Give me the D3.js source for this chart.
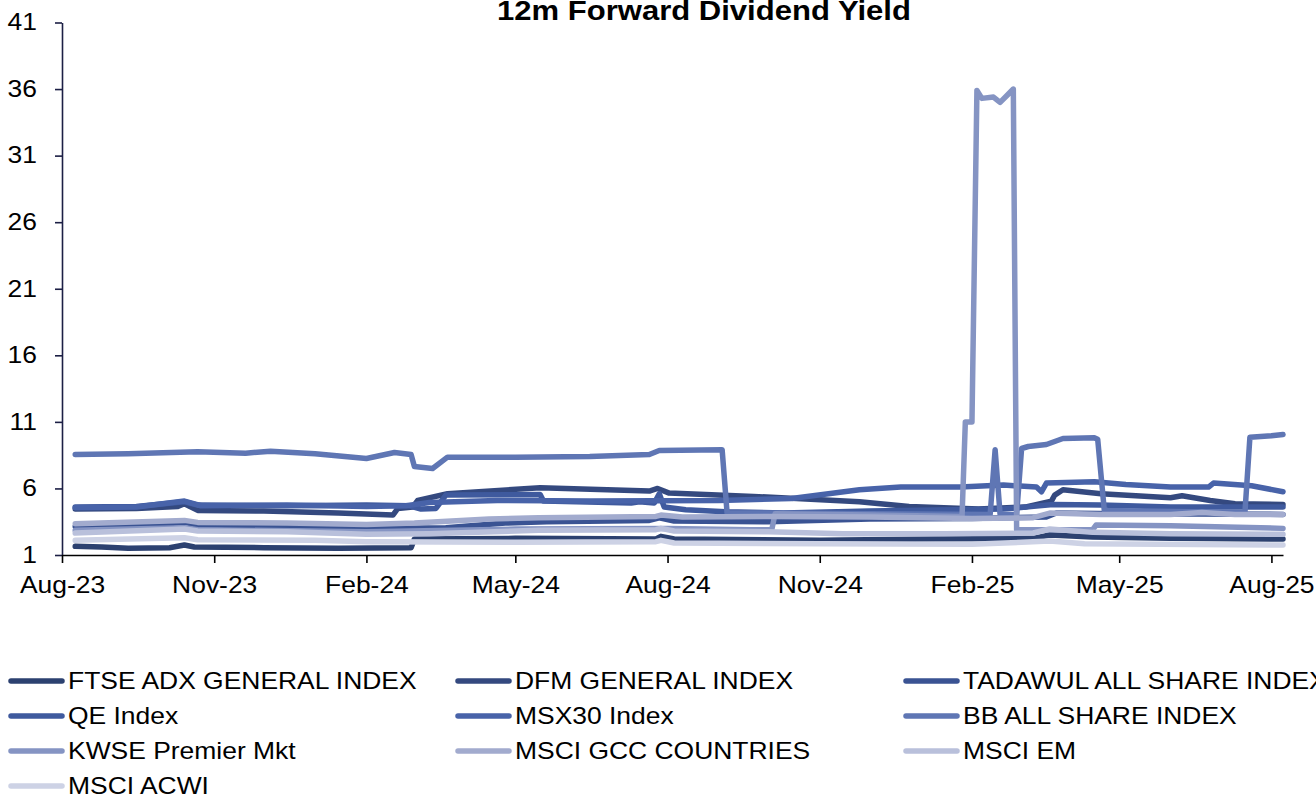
<!DOCTYPE html>
<html>
<head>
<meta charset="utf-8">
<script src="https://cdn.jsdelivr.net/npm/d3@7"></script>
<style>
body { margin: 0; background: #fff; }
text { font-family: Arial, "Liberation Sans", sans-serif; fill: #000; }
</style>
</head>
<body>
<div id="chart"></div>
<script>

var chartTitle = '12m Forward Dividend Yield';

var seriesNames = ['FTSE ADX GENERAL INDEX', 'DFM GENERAL INDEX', 'TADAWUL ALL SHARE INDEX',
                   'QE Index', 'MSX30 Index', 'BB ALL SHARE INDEX',
                   'KWSE Premier Mkt', 'MSCI GCC COUNTRIES', 'MSCI EM',
                   'MSCI ACWI'];
var seriesColors = ['#2c4170', '#34497f', '#3a5393', '#3f5a9e', '#4863a9',
                    '#5f76b4', '#8594c3', '#a2abce', '#b9c0db', '#cdd2e5'];

var yTicks = [1, 6, 11, 16, 21, 26, 31, 36, 41];
var xTicks = ['2023-08-01', '2023-11-01', '2024-02-01', '2024-05-01', '2024-08-01',
              '2024-11-01', '2025-02-01', '2025-05-01', '2025-08-01'];
var xStart = '2023-08-01', xEnd = '2025-08-08';

// values (date, yield %)
var ftseAdx = [['2023-08-09',1.65],['2023-08-25',1.6],['2023-09-10',1.5],['2023-10-05',1.55],['2023-10-14',1.75],
  ['2023-10-20',1.6],['2023-12-01',1.55],['2024-01-15',1.5],['2024-02-28',1.55],['2024-03-01',2.2],['2024-05-01',2.25],
  ['2024-07-25',2.2],['2024-07-28',2.4],['2024-08-05',2.2],['2024-11-01',2.1],['2025-01-10',2.2],['2025-03-10',2.25],
  ['2025-03-20',2.5],['2025-04-15',2.35],['2025-06-01',2.25],['2025-08-08',2.2]];
var dfm = [['2023-08-09',4.45],['2023-09-15',4.5],['2023-10-10',4.65],['2023-10-14',4.85],['2023-10-22',4.35],
  ['2023-12-01',4.3],['2024-01-15',4.15],['2024-02-17',4.0],['2024-02-20',4.5],['2024-02-29',4.6],['2024-03-03',5.1],
  ['2024-03-21',5.6],['2024-05-16',6.05],['2024-07-21',5.8],['2024-07-26',6.0],['2024-08-02',5.65],['2024-09-22',5.4],
  ['2024-11-25',5.0],['2024-12-25',4.65],['2025-02-05',4.45],['2025-03-05',4.6],['2025-03-21',5.05],['2025-03-23',5.5],
  ['2025-03-28',5.9],['2025-04-20',5.6],['2025-06-01',5.3],['2025-06-08',5.45],['2025-06-25',5.1],['2025-07-10',4.85],
  ['2025-08-08',4.8]];
var tadawul = [['2023-08-09',3.15],['2023-09-20',3.2],['2023-10-14',3.45],['2023-10-22',3.25],['2023-12-15',3.2],
  ['2024-02-10',3.0],['2024-03-20',3.05],['2024-04-25',3.4],['2024-05-20',3.5],['2024-07-21',3.6],['2024-07-27',3.8],
  ['2024-08-05',3.55],['2024-10-01',3.5],['2024-12-01',3.7],['2025-02-01',3.75],['2025-03-18',3.85],['2025-03-24',4.15],
  ['2025-05-01',4.1],['2025-08-08',4.05]];
var qe = [['2023-08-09',4.6],['2023-09-15',4.65],['2023-10-14',5.0],['2023-10-22',4.75],['2023-12-15',4.7],
  ['2024-02-01',4.75],['2024-02-27',4.7],['2024-03-05',4.45],['2024-03-14',4.5],['2024-03-20',5.5],['2024-05-16',5.55],
  ['2024-05-18',5.05],['2024-07-10',4.9],['2024-07-15',5.0],['2024-07-24',4.9],['2024-07-27',5.6],['2024-07-30',4.6],
  ['2024-08-12',4.4],['2024-09-05',4.25],['2024-10-10',4.15],['2024-12-01',4.3],['2025-01-20',4.4],['2025-02-20',4.45],
  ['2025-03-22',4.8],['2025-04-20',4.75],['2025-06-01',4.6],['2025-08-08',4.6]];
var msx30 = [['2023-08-09',4.55],['2023-09-15',4.6],['2023-10-14',5.05],['2023-10-24',4.7],['2023-12-15',4.75],
  ['2024-02-01',4.65],['2024-02-25',4.7],['2024-03-10',4.95],['2024-04-20',5.1],['2024-06-15',5.05],['2024-09-01',5.1],
  ['2024-10-15',5.25],['2024-11-25',5.9],['2024-12-20',6.1],['2025-01-25',6.1],['2025-02-20',6.25],['2025-03-12',6.1],
  ['2025-03-15',5.75],['2025-03-18',6.4],['2025-04-16',6.5],['2025-05-05',6.3],['2025-06-01',6.1],['2025-06-24',6.1],
  ['2025-06-27',6.4],['2025-07-20',6.2],['2025-08-08',5.75]];
var bbAllShare = [['2023-08-09',8.55],['2023-09-10',8.6],['2023-10-22',8.75],['2023-11-20',8.65],['2023-12-05',8.8],
  ['2024-01-01',8.6],['2024-02-01',8.25],['2024-02-18',8.7],['2024-02-28',8.55],['2024-03-01',7.65],['2024-03-12',7.5],
  ['2024-03-21',8.35],['2024-05-01',8.35],['2024-06-15',8.4],['2024-07-21',8.55],['2024-07-27',8.85],['2024-09-03',8.9],
  ['2024-09-06',4.15],['2024-10-04',4.15],['2024-12-01',4.1],['2025-02-12',4.05],['2025-02-15',8.9],['2025-02-18',4.05],
  ['2025-02-28',4.05],['2025-03-03',9.0],['2025-03-07',9.15],['2025-03-18',9.3],['2025-03-28',9.75],['2025-04-16',9.8],
  ['2025-04-18',9.7],['2025-04-22',4.35],['2025-07-16',4.2],['2025-07-19',9.85],['2025-08-01',9.95],['2025-08-08',10.05]];
var kwsePremier = [['2023-08-09',2.85],['2023-10-14',3.05],['2023-10-22',2.9],['2024-02-01',2.75],['2024-05-01',2.95],
  ['2024-08-01',3.0],['2024-09-20',2.9],['2024-10-03',2.9],['2024-10-05',4.1],['2024-12-01',4.0],['2025-01-26',3.9],
  ['2025-01-28',11.0],['2025-02-01',11.0],['2025-02-04',35.9],['2025-02-07',35.3],['2025-02-14',35.4],['2025-02-18',35.0],
  ['2025-02-22',35.5],['2025-02-26',36.0],['2025-02-28',2.9],['2025-04-15',2.9],['2025-04-17',3.25],['2025-06-01',3.2],
  ['2025-08-08',3.0]];
var msciGcc = [['2023-08-09',3.35],['2023-10-14',3.6],['2023-10-22',3.45],['2023-12-15',3.4],['2024-02-01',3.3],
  ['2024-03-01',3.4],['2024-04-15',3.7],['2024-05-15',3.8],['2024-07-25',3.9],['2024-07-28',4.0],['2024-08-10',3.85],
  ['2024-10-01',3.9],['2024-12-01',3.85],['2025-02-01',3.75],['2025-03-10',3.8],['2025-03-20',4.15],['2025-04-20',4.05],
  ['2025-06-01',4.05],['2025-06-20',4.2],['2025-07-10',4.05],['2025-08-08',4.05]];
var msciEm = [['2023-08-09',2.65],['2023-10-14',2.95],['2023-10-22',2.8],['2023-12-15',2.75],['2024-02-01',2.55],
  ['2024-03-10',2.6],['2024-05-15',2.85],['2024-07-25',2.9],['2024-07-28',3.0],['2024-08-05',2.8],['2024-10-01',2.75],
  ['2024-11-15',2.6],['2025-01-15',2.6],['2025-03-10',2.65],['2025-03-20',2.95],['2025-04-15',2.7],['2025-06-01',2.6],
  ['2025-08-08',2.55]];
var msciAcwi = [['2023-08-09',2.1],['2023-10-14',2.3],['2023-10-22',2.15],['2024-01-01',2.1],['2024-02-01',2.0],
  ['2024-05-01',1.95],['2024-07-25',2.0],['2024-07-28',2.1],['2024-08-05',1.9],['2024-11-01',1.85],['2025-02-01',1.8],
  ['2025-03-20',2.05],['2025-04-10',1.85],['2025-08-08',1.75]];

var seriesData = [ftseAdx, dfm, tadawul, qe, msx30, bbAllShare, kwsePremier, msciGcc, msciEm, msciAcwi];

var parseDate = d3.timeParse('%Y-%m-%d');
var stretchX = 1.15; // picture text is a little wide

function stretch(sel) {
  sel.each(function() {
    var ax = +(this.getAttribute('x') || 0);
    d3.select(this).attr('transform', 'translate(' + ax + ',0) scale(' + stretchX + ',1) translate(' + (-ax) + ',0)');
  });
}

var width = 1316, height = 796;

var svg = d3.select('#chart').append('svg')
    .attr('width', width)
    .attr('height', height);

var x = d3.scaleTime()
    .domain([parseDate(xStart), parseDate(xEnd)])
    .range([62, 1283]);

var y = d3.scaleLinear()
    .domain([1, 41])
    .range([555, 22.5]);

var yAxis = d3.axisLeft(y)
    .tickValues(yTicks)
    .tickSize(7)
    .tickSizeOuter(0)
    .tickPadding(18)
    .tickFormat(d3.format('d'));

var xAxis = d3.axisBottom(x)
    .tickValues(xTicks.map(parseDate))
    .tickSize(8)
    .tickSizeOuter(0)
    .tickPadding(14)
    .tickFormat(d3.timeFormat('%b-%y'));

var gy = svg.append('g')
    .attr('transform', 'translate(62,0)')
    .call(yAxis);
gy.select('.domain').attr('stroke', '#1c1f45').attr('stroke-width', 1.6);
gy.selectAll('.tick line').attr('stroke', '#1c1f45').attr('stroke-width', 1.6);
gy.selectAll('.tick text').style('font-size', '23px').style('font-family', 'Arial, "Liberation Sans", sans-serif').attr('fill', '#000');
stretch(gy.selectAll('.tick text'));

var gx = svg.append('g')
    .attr('transform', 'translate(0,555)')
    .call(xAxis);
gx.select('.domain').attr('stroke', '#000').attr('stroke-width', 1.6);
gx.selectAll('.tick line').attr('stroke', '#000').attr('stroke-width', 1.6);
gx.selectAll('.tick text').style('font-size', '23px').style('font-family', 'Arial, "Liberation Sans", sans-serif').attr('fill', '#000');
stretch(gx.selectAll('.tick text'));

var line = d3.line()
    .x(function(d) { return x(parseDate(d[0])); })
    .y(function(d) { return y(d[1]); });

svg.selectAll('.series')
    .data(seriesData)
  .enter().append('path')
    .attr('class', 'series')
    .attr('d', line)
    .attr('fill', 'none')
    .attr('stroke', function(d, i) { return seriesColors[i]; })
    .attr('stroke-width', 5.5)
    .attr('stroke-linejoin', 'round')
    .attr('stroke-linecap', 'round');

// title, a little cut at the top like the source
var title = svg.append('text')
    .attr('x', 704)
    .attr('y', 20)
    .attr('text-anchor', 'middle')
    .style('font-size', '27px')
    .style('font-weight', 'bold')
    .text(chartTitle);
stretch(title);

// legend, 3 columns
var legCols = [10, 457, 905], legRows = [681, 716, 751, 786];

var legend = svg.selectAll('.legend')
    .data(seriesNames)
  .enter().append('g')
    .attr('class', 'legend')
    .attr('transform', function(d, i) {
      return 'translate(' + legCols[i % 3] + ',' + legRows[Math.floor(i / 3)] + ')';
    });

legend.append('line')
    .attr('x1', 1).attr('x2', 52)
    .attr('y1', 0).attr('y2', 0)
    .attr('stroke', function(d, i) { return seriesColors[i]; })
    .attr('stroke-width', 5.5)
    .attr('stroke-linecap', 'round');

legend.append('text')
    .attr('x', 58)
    .attr('y', 0)
    .attr('dy', '0.35em')
    .style('font-size', '23px')
    .text(function(d) { return d; });
stretch(legend.selectAll('text'));

</script>
</body>
</html>
